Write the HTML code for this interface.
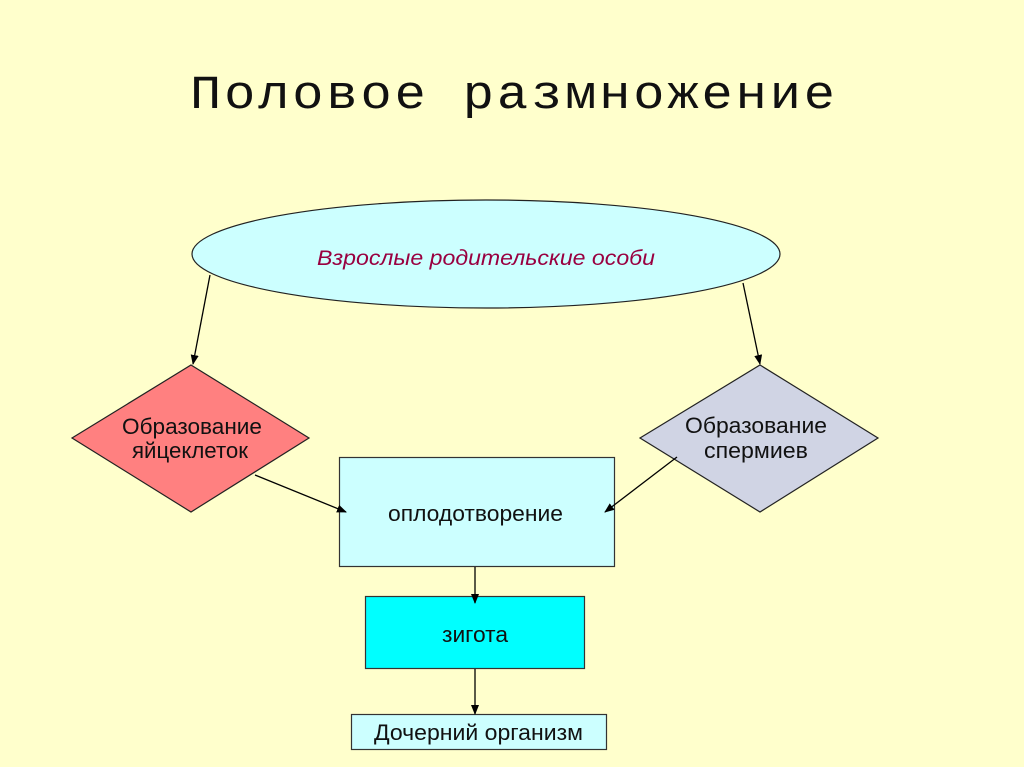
<!DOCTYPE html>
<html>
<head>
<meta charset="utf-8">
<style>
  html, body { margin:0; padding:0; background:#FFFFCC; }
  svg { display:block; }
</style>
</head>
<body>
<svg width="1024" height="767" viewBox="0 0 1024 767" xmlns="http://www.w3.org/2000/svg">
  <defs>
    <marker id="ah" markerWidth="10" markerHeight="8" refX="9" refY="4" orient="auto" markerUnits="userSpaceOnUse">
      <path d="M0,0 L10,4 L0,8 z" fill="#000"/>
    </marker>
  </defs>
  <rect x="0" y="0" width="1024" height="767" fill="#FFFFCC"/>

  <!-- Title -->
  <g transform="translate(0,108) scale(1,0.91)">
    <text x="190" y="0" font-family="'Liberation Mono', monospace" font-size="52" fill="#111" textLength="645" lengthAdjust="spacing">Половое размножение</text>
  </g>

  <!-- Ellipse -->
  <ellipse cx="486" cy="254" rx="294" ry="54" fill="#CCFFFF" stroke="#222" stroke-width="1.2"/>
  <text x="317" y="265" font-family="'Liberation Sans', Arial, sans-serif" font-style="italic" font-size="21" fill="#990040" textLength="338" lengthAdjust="spacingAndGlyphs">Взрослые родительские особи</text>

  <!-- Left diamond -->
  <polygon points="191,365 309,438 191,512 72,438" fill="#FF8080" stroke="#222" stroke-width="1.2"/>
  <text x="192" y="434" text-anchor="middle" font-family="'Liberation Sans', Arial, sans-serif" font-size="22" fill="#111" textLength="140" lengthAdjust="spacingAndGlyphs">Образование</text>
  <text x="190" y="458" text-anchor="middle" font-family="'Liberation Sans', Arial, sans-serif" font-size="22" fill="#111" textLength="116" lengthAdjust="spacingAndGlyphs">яйцеклеток</text>

  <!-- Right diamond -->
  <polygon points="760,365 878,438 760,512 640,438" fill="#D0D4E4" stroke="#222" stroke-width="1.2"/>
  <text x="756" y="433" text-anchor="middle" font-family="'Liberation Sans', Arial, sans-serif" font-size="22" fill="#111" textLength="142" lengthAdjust="spacingAndGlyphs">Образование</text>
  <text x="756" y="458" text-anchor="middle" font-family="'Liberation Sans', Arial, sans-serif" font-size="22" fill="#111" textLength="104" lengthAdjust="spacingAndGlyphs">спермиев</text>

  <!-- Fertilization rect -->
  <rect x="339.5" y="457.5" width="275" height="109" fill="#CCFFFF" stroke="#333" stroke-width="1.2"/>
  <text x="388" y="521" font-family="'Liberation Sans', Arial, sans-serif" font-size="22" fill="#111" textLength="175" lengthAdjust="spacingAndGlyphs">оплодотворение</text>

  <!-- Zygote rect -->
  <rect x="365.5" y="596.5" width="219" height="72" fill="#00FFFF" stroke="#333" stroke-width="1.2"/>
  <text x="442" y="642" font-family="'Liberation Sans', Arial, sans-serif" font-size="22" fill="#111" textLength="66" lengthAdjust="spacingAndGlyphs">зигота</text>

  <!-- Daughter rect -->
  <rect x="351.5" y="714.5" width="255" height="35" fill="#CCFFFF" stroke="#333" stroke-width="1.2"/>
  <text x="374" y="740" font-family="'Liberation Sans', Arial, sans-serif" font-size="22" fill="#111" textLength="209" lengthAdjust="spacingAndGlyphs">Дочерний организм</text>

  <!-- Arrows (drawn on top) -->
  <line x1="210" y1="275" x2="193" y2="364" stroke="#000" stroke-width="1.3" marker-end="url(#ah)"/>
  <line x1="743" y1="283" x2="760" y2="364" stroke="#000" stroke-width="1.3" marker-end="url(#ah)"/>
  <line x1="255" y1="475" x2="346" y2="512" stroke="#000" stroke-width="1.3" marker-end="url(#ah)"/>
  <line x1="677" y1="457" x2="605" y2="512" stroke="#000" stroke-width="1.3" marker-end="url(#ah)"/>
  <line x1="475" y1="567" x2="475" y2="603" stroke="#000" stroke-width="1.3" marker-end="url(#ah)"/>
  <line x1="475" y1="669" x2="475" y2="714" stroke="#000" stroke-width="1.3" marker-end="url(#ah)"/>
</svg>
</body>
</html>
